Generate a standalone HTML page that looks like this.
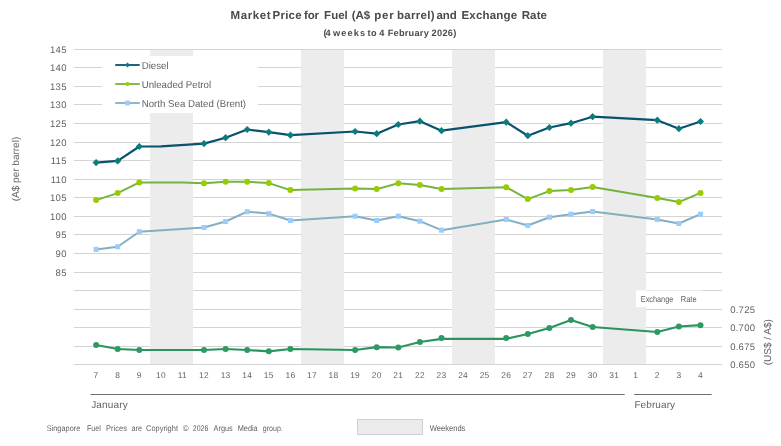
<!DOCTYPE html>
<html><head><meta charset="utf-8"><title>Market Price for Fuel</title>
<style>html,body{margin:0;padding:0;background:#fff}svg{display:block}text{font-family:"Liberation Sans",Arial,sans-serif;text-rendering:geometricPrecision}</style></head><body>
<svg width="781" height="446" viewBox="0 0 781 446">
<rect width="781" height="446" fill="#fff"/>
<line x1="74" x2="722" y1="49.50" y2="49.50" stroke="#d4d4d4" stroke-width="1"/>
<line x1="74" x2="722" y1="67.50" y2="67.50" stroke="#d4d4d4" stroke-width="1"/>
<line x1="74" x2="722" y1="86.50" y2="86.50" stroke="#d4d4d4" stroke-width="1"/>
<line x1="74" x2="722" y1="104.50" y2="104.50" stroke="#d4d4d4" stroke-width="1"/>
<line x1="74" x2="722" y1="123.50" y2="123.50" stroke="#d4d4d4" stroke-width="1"/>
<line x1="74" x2="722" y1="142.50" y2="142.50" stroke="#d4d4d4" stroke-width="1"/>
<line x1="74" x2="722" y1="160.50" y2="160.50" stroke="#d4d4d4" stroke-width="1"/>
<line x1="74" x2="722" y1="179.50" y2="179.50" stroke="#d4d4d4" stroke-width="1"/>
<line x1="74" x2="722" y1="197.50" y2="197.50" stroke="#d4d4d4" stroke-width="1"/>
<line x1="74" x2="722" y1="216.50" y2="216.50" stroke="#d4d4d4" stroke-width="1"/>
<line x1="74" x2="722" y1="234.50" y2="234.50" stroke="#d4d4d4" stroke-width="1"/>
<line x1="74" x2="722" y1="253.50" y2="253.50" stroke="#d4d4d4" stroke-width="1"/>
<line x1="74" x2="722" y1="272.50" y2="272.50" stroke="#d4d4d4" stroke-width="1"/>
<line x1="74" x2="722" y1="290.50" y2="290.50" stroke="#d4d4d4" stroke-width="1"/>
<line x1="74" x2="722" y1="309.50" y2="309.50" stroke="#d4d4d4" stroke-width="1"/>
<line x1="74" x2="722" y1="327.50" y2="327.50" stroke="#d4d4d4" stroke-width="1"/>
<line x1="74" x2="722" y1="346.50" y2="346.50" stroke="#d4d4d4" stroke-width="1"/>
<line x1="74" x2="722" y1="364.50" y2="364.50" stroke="#d4d4d4" stroke-width="1"/>
<rect x="150" y="50" width="43" height="314" fill="#ececec"/>
<rect x="301" y="50" width="43" height="314" fill="#ececec"/>
<rect x="452" y="50" width="43" height="314" fill="#ececec"/>
<rect x="603" y="50" width="43" height="314" fill="#ececec"/>
<rect x="102" y="56" width="156" height="57" fill="#fff"/>
<rect x="636" y="290.5" width="66.3" height="16.5" fill="#fff"/>
<polyline points="96.1,249.4 117.7,246.7 139.3,231.7 204.0,227.5 225.6,221.5 247.2,211.7 268.8,213.6 290.4,220.5 355.1,216.2 376.7,220.5 398.3,216.2 419.9,221.2 441.5,230.2 506.2,219.5 527.8,225.5 549.4,217.2 571.0,214.2 592.6,211.5 657.3,219.5 678.9,223.5 700.5,214.2" fill="none" stroke="#84afc0" stroke-width="2.0" stroke-linejoin="round" stroke-linecap="round"/>
<rect x="93.6" y="246.9" width="5.0" height="5.0" fill="#99ccff"/>
<rect x="115.2" y="244.2" width="5.0" height="5.0" fill="#99ccff"/>
<rect x="136.8" y="229.2" width="5.0" height="5.0" fill="#99ccff"/>
<rect x="201.5" y="225.0" width="5.0" height="5.0" fill="#99ccff"/>
<rect x="223.1" y="219.0" width="5.0" height="5.0" fill="#99ccff"/>
<rect x="244.7" y="209.2" width="5.0" height="5.0" fill="#99ccff"/>
<rect x="266.3" y="211.1" width="5.0" height="5.0" fill="#99ccff"/>
<rect x="287.9" y="218.0" width="5.0" height="5.0" fill="#99ccff"/>
<rect x="352.6" y="213.7" width="5.0" height="5.0" fill="#99ccff"/>
<rect x="374.2" y="218.0" width="5.0" height="5.0" fill="#99ccff"/>
<rect x="395.8" y="213.7" width="5.0" height="5.0" fill="#99ccff"/>
<rect x="417.4" y="218.7" width="5.0" height="5.0" fill="#99ccff"/>
<rect x="439.0" y="227.7" width="5.0" height="5.0" fill="#99ccff"/>
<rect x="503.7" y="217.0" width="5.0" height="5.0" fill="#99ccff"/>
<rect x="525.3" y="223.0" width="5.0" height="5.0" fill="#99ccff"/>
<rect x="546.9" y="214.7" width="5.0" height="5.0" fill="#99ccff"/>
<rect x="568.5" y="211.7" width="5.0" height="5.0" fill="#99ccff"/>
<rect x="590.1" y="209.0" width="5.0" height="5.0" fill="#99ccff"/>
<rect x="654.8" y="217.0" width="5.0" height="5.0" fill="#99ccff"/>
<rect x="676.4" y="221.0" width="5.0" height="5.0" fill="#99ccff"/>
<rect x="698.0" y="211.7" width="5.0" height="5.0" fill="#99ccff"/>
<polyline points="96.1,200.1 117.7,193.1 139.3,182.4 160.9,182.4 182.4,182.5 204.0,183.2 225.6,181.7 247.2,181.7 268.8,183.1 290.4,190.1 355.1,188.4 376.7,189.1 398.3,183.2 419.9,184.9 441.5,189.1 506.2,187.2 527.8,199.1 549.4,191.1 571.0,190.1 592.6,186.9 657.3,197.9 678.9,202.1 700.5,192.9" fill="none" stroke="#74b340" stroke-width="2.0" stroke-linejoin="round" stroke-linecap="round"/>
<circle cx="96.1" cy="200.1" r="3.00" fill="#99cc00"/>
<circle cx="117.7" cy="193.1" r="3.00" fill="#99cc00"/>
<circle cx="139.3" cy="182.4" r="3.00" fill="#99cc00"/>
<circle cx="204.0" cy="183.2" r="3.00" fill="#99cc00"/>
<circle cx="225.6" cy="181.7" r="3.00" fill="#99cc00"/>
<circle cx="247.2" cy="181.7" r="3.00" fill="#99cc00"/>
<circle cx="268.8" cy="183.1" r="3.00" fill="#99cc00"/>
<circle cx="290.4" cy="190.1" r="3.00" fill="#99cc00"/>
<circle cx="355.1" cy="188.4" r="3.00" fill="#99cc00"/>
<circle cx="376.7" cy="189.1" r="3.00" fill="#99cc00"/>
<circle cx="398.3" cy="183.2" r="3.00" fill="#99cc00"/>
<circle cx="419.9" cy="184.9" r="3.00" fill="#99cc00"/>
<circle cx="441.5" cy="189.1" r="3.00" fill="#99cc00"/>
<circle cx="506.2" cy="187.2" r="3.00" fill="#99cc00"/>
<circle cx="527.8" cy="199.1" r="3.00" fill="#99cc00"/>
<circle cx="549.4" cy="191.1" r="3.00" fill="#99cc00"/>
<circle cx="571.0" cy="190.1" r="3.00" fill="#99cc00"/>
<circle cx="592.6" cy="186.9" r="3.00" fill="#99cc00"/>
<circle cx="657.3" cy="197.9" r="3.00" fill="#99cc00"/>
<circle cx="678.9" cy="202.1" r="3.00" fill="#99cc00"/>
<circle cx="700.5" cy="192.9" r="3.00" fill="#99cc00"/>
<polyline points="96.1,162.6 117.7,160.9 139.3,146.5 160.9,146.4 204.0,143.6 225.6,137.7 247.2,129.5 268.8,132.2 290.4,135.2 355.1,131.5 376.7,133.7 398.3,124.5 419.9,121.2 441.5,130.7 506.2,122.2 527.8,135.7 549.4,127.5 571.0,123.2 592.6,116.7 657.3,120.2 678.9,128.7 700.5,121.5" fill="none" stroke="#08526f" stroke-width="2.2" stroke-linejoin="round" stroke-linecap="round"/>
<path d="M96.1 159.0L99.7 162.6L96.1 166.2L92.5 162.6Z" fill="#0b7c7c"/>
<path d="M117.7 157.3L121.3 160.9L117.7 164.5L114.1 160.9Z" fill="#0b7c7c"/>
<path d="M139.3 142.9L142.9 146.5L139.3 150.1L135.7 146.5Z" fill="#0b7c7c"/>
<path d="M204.0 140.0L207.6 143.6L204.0 147.2L200.4 143.6Z" fill="#0b7c7c"/>
<path d="M225.6 134.1L229.2 137.7L225.6 141.3L222.0 137.7Z" fill="#0b7c7c"/>
<path d="M247.2 125.9L250.8 129.5L247.2 133.1L243.6 129.5Z" fill="#0b7c7c"/>
<path d="M268.8 128.6L272.4 132.2L268.8 135.8L265.2 132.2Z" fill="#0b7c7c"/>
<path d="M290.4 131.6L294.0 135.2L290.4 138.8L286.8 135.2Z" fill="#0b7c7c"/>
<path d="M355.1 127.9L358.7 131.5L355.1 135.1L351.5 131.5Z" fill="#0b7c7c"/>
<path d="M376.7 130.1L380.3 133.7L376.7 137.3L373.1 133.7Z" fill="#0b7c7c"/>
<path d="M398.3 120.9L401.9 124.5L398.3 128.1L394.7 124.5Z" fill="#0b7c7c"/>
<path d="M419.9 117.6L423.5 121.2L419.9 124.8L416.3 121.2Z" fill="#0b7c7c"/>
<path d="M441.5 127.1L445.1 130.7L441.5 134.3L437.9 130.7Z" fill="#0b7c7c"/>
<path d="M506.2 118.6L509.8 122.2L506.2 125.8L502.6 122.2Z" fill="#0b7c7c"/>
<path d="M527.8 132.1L531.4 135.7L527.8 139.3L524.2 135.7Z" fill="#0b7c7c"/>
<path d="M549.4 123.9L553.0 127.5L549.4 131.1L545.8 127.5Z" fill="#0b7c7c"/>
<path d="M571.0 119.6L574.6 123.2L571.0 126.8L567.4 123.2Z" fill="#0b7c7c"/>
<path d="M592.6 113.1L596.2 116.7L592.6 120.3L589.0 116.7Z" fill="#0b7c7c"/>
<path d="M657.3 116.6L660.9 120.2L657.3 123.8L653.7 120.2Z" fill="#0b7c7c"/>
<path d="M678.9 125.1L682.5 128.7L678.9 132.3L675.3 128.7Z" fill="#0b7c7c"/>
<path d="M700.5 117.9L704.1 121.5L700.5 125.1L696.9 121.5Z" fill="#0b7c7c"/>
<polyline points="96.1,345.0 117.7,349.0 139.3,350.0 204.0,350.0 225.6,349.0 247.2,350.0 268.8,351.3 290.4,349.0 355.1,350.0 376.7,347.2 398.3,347.5 419.9,342.0 441.5,338.8 506.2,338.8 527.8,334.0 549.4,328.0 571.0,320.0 592.6,327.0 657.3,332.0 678.9,326.5 700.5,325.2" fill="none" stroke="#2a9461" stroke-width="2.2" stroke-linejoin="round" stroke-linecap="round"/>
<circle cx="96.1" cy="345.0" r="3.00" fill="#2e9a60"/>
<circle cx="117.7" cy="349.0" r="3.00" fill="#2e9a60"/>
<circle cx="139.3" cy="350.0" r="3.00" fill="#2e9a60"/>
<circle cx="204.0" cy="350.0" r="3.00" fill="#2e9a60"/>
<circle cx="225.6" cy="349.0" r="3.00" fill="#2e9a60"/>
<circle cx="247.2" cy="350.0" r="3.00" fill="#2e9a60"/>
<circle cx="268.8" cy="351.3" r="3.00" fill="#2e9a60"/>
<circle cx="290.4" cy="349.0" r="3.00" fill="#2e9a60"/>
<circle cx="355.1" cy="350.0" r="3.00" fill="#2e9a60"/>
<circle cx="376.7" cy="347.2" r="3.00" fill="#2e9a60"/>
<circle cx="398.3" cy="347.5" r="3.00" fill="#2e9a60"/>
<circle cx="419.9" cy="342.0" r="3.00" fill="#2e9a60"/>
<circle cx="441.5" cy="338.0" r="3.00" fill="#2e9a60"/>
<circle cx="506.2" cy="338.0" r="3.00" fill="#2e9a60"/>
<circle cx="527.8" cy="334.0" r="3.00" fill="#2e9a60"/>
<circle cx="549.4" cy="328.0" r="3.00" fill="#2e9a60"/>
<circle cx="571.0" cy="320.0" r="3.00" fill="#2e9a60"/>
<circle cx="592.6" cy="327.0" r="3.00" fill="#2e9a60"/>
<circle cx="657.3" cy="332.0" r="3.00" fill="#2e9a60"/>
<circle cx="678.9" cy="326.5" r="3.00" fill="#2e9a60"/>
<circle cx="700.5" cy="325.2" r="3.00" fill="#2e9a60"/>
<line x1="115.2" x2="139.7" y1="65" y2="65" stroke="#08526f" stroke-width="1.8"/>
<path d="M127.5 62.4L130.1 65.0L127.5 67.6L124.9 65.0Z" fill="#0b7c7c"/>
<text transform="translate(141.7 68.5) scale(0.968 1)" font-size="10" fill="#626262">Diesel</text>
<line x1="115.2" x2="139.7" y1="84" y2="84" stroke="#74b340" stroke-width="1.8"/>
<circle cx="127.5" cy="84.0" r="2.10" fill="#99cc00"/>
<text transform="translate(141.7 87.5) scale(0.968 1)" font-size="10" fill="#626262">Unleaded Petrol</text>
<line x1="115.2" x2="139.7" y1="103" y2="103" stroke="#84afc0" stroke-width="1.8"/>
<rect x="125.1" y="100.6" width="4.75" height="4.75" fill="#99ccff"/>
<text transform="translate(141.7 106.5) scale(0.968 1)" font-size="10" fill="#626262">North Sea Dated (Brent)</text>
<text x="66.7" y="52.50" font-size="9.5" letter-spacing="0.25" fill="#626262" text-anchor="end">145</text>
<text x="66.7" y="70.50" font-size="9.5" letter-spacing="0.25" fill="#626262" text-anchor="end">140</text>
<text x="66.7" y="89.50" font-size="9.5" letter-spacing="0.25" fill="#626262" text-anchor="end">135</text>
<text x="66.7" y="107.50" font-size="9.5" letter-spacing="0.25" fill="#626262" text-anchor="end">130</text>
<text x="66.7" y="126.50" font-size="9.5" letter-spacing="0.25" fill="#626262" text-anchor="end">125</text>
<text x="66.7" y="145.50" font-size="9.5" letter-spacing="0.25" fill="#626262" text-anchor="end">120</text>
<text x="66.7" y="163.50" font-size="9.5" letter-spacing="0.25" fill="#626262" text-anchor="end">115</text>
<text x="66.7" y="182.50" font-size="9.5" letter-spacing="0.25" fill="#626262" text-anchor="end">110</text>
<text x="66.7" y="200.50" font-size="9.5" letter-spacing="0.25" fill="#626262" text-anchor="end">105</text>
<text x="66.7" y="219.50" font-size="9.5" letter-spacing="0.25" fill="#626262" text-anchor="end">100</text>
<text x="66.7" y="237.50" font-size="9.5" letter-spacing="0.25" fill="#626262" text-anchor="end">95</text>
<text x="66.7" y="256.50" font-size="9.5" letter-spacing="0.25" fill="#626262" text-anchor="end">90</text>
<text x="66.7" y="275.50" font-size="9.5" letter-spacing="0.25" fill="#626262" text-anchor="end">85</text>
<text x="730.2" y="312.60" font-size="9.5" letter-spacing="0.25" fill="#626262">0.725</text>
<text x="730.2" y="330.60" font-size="9.5" letter-spacing="0.25" fill="#626262">0.700</text>
<text x="730.2" y="349.60" font-size="9.5" letter-spacing="0.25" fill="#626262">0.675</text>
<text x="730.2" y="367.60" font-size="9.5" letter-spacing="0.25" fill="#626262">0.650</text>
<text x="96.1" y="378.4" font-size="8.4" letter-spacing="0.3" fill="#626262" text-anchor="middle">7</text>
<text x="117.7" y="378.4" font-size="8.4" letter-spacing="0.3" fill="#626262" text-anchor="middle">8</text>
<text x="139.3" y="378.4" font-size="8.4" letter-spacing="0.3" fill="#626262" text-anchor="middle">9</text>
<text x="160.9" y="378.4" font-size="8.4" letter-spacing="0.3" fill="#626262" text-anchor="middle">10</text>
<text x="182.4" y="378.4" font-size="8.4" letter-spacing="0.3" fill="#626262" text-anchor="middle">11</text>
<text x="204.0" y="378.4" font-size="8.4" letter-spacing="0.3" fill="#626262" text-anchor="middle">12</text>
<text x="225.6" y="378.4" font-size="8.4" letter-spacing="0.3" fill="#626262" text-anchor="middle">13</text>
<text x="247.2" y="378.4" font-size="8.4" letter-spacing="0.3" fill="#626262" text-anchor="middle">14</text>
<text x="268.8" y="378.4" font-size="8.4" letter-spacing="0.3" fill="#626262" text-anchor="middle">15</text>
<text x="290.4" y="378.4" font-size="8.4" letter-spacing="0.3" fill="#626262" text-anchor="middle">16</text>
<text x="312.0" y="378.4" font-size="8.4" letter-spacing="0.3" fill="#626262" text-anchor="middle">17</text>
<text x="333.5" y="378.4" font-size="8.4" letter-spacing="0.3" fill="#626262" text-anchor="middle">18</text>
<text x="355.1" y="378.4" font-size="8.4" letter-spacing="0.3" fill="#626262" text-anchor="middle">19</text>
<text x="376.7" y="378.4" font-size="8.4" letter-spacing="0.3" fill="#626262" text-anchor="middle">20</text>
<text x="398.3" y="378.4" font-size="8.4" letter-spacing="0.3" fill="#626262" text-anchor="middle">21</text>
<text x="419.9" y="378.4" font-size="8.4" letter-spacing="0.3" fill="#626262" text-anchor="middle">22</text>
<text x="441.5" y="378.4" font-size="8.4" letter-spacing="0.3" fill="#626262" text-anchor="middle">23</text>
<text x="463.1" y="378.4" font-size="8.4" letter-spacing="0.3" fill="#626262" text-anchor="middle">24</text>
<text x="484.6" y="378.4" font-size="8.4" letter-spacing="0.3" fill="#626262" text-anchor="middle">25</text>
<text x="506.2" y="378.4" font-size="8.4" letter-spacing="0.3" fill="#626262" text-anchor="middle">26</text>
<text x="527.8" y="378.4" font-size="8.4" letter-spacing="0.3" fill="#626262" text-anchor="middle">27</text>
<text x="549.4" y="378.4" font-size="8.4" letter-spacing="0.3" fill="#626262" text-anchor="middle">28</text>
<text x="571.0" y="378.4" font-size="8.4" letter-spacing="0.3" fill="#626262" text-anchor="middle">29</text>
<text x="592.6" y="378.4" font-size="8.4" letter-spacing="0.3" fill="#626262" text-anchor="middle">30</text>
<text x="614.2" y="378.4" font-size="8.4" letter-spacing="0.3" fill="#626262" text-anchor="middle">31</text>
<text x="635.8" y="378.4" font-size="8.4" letter-spacing="0.3" fill="#626262" text-anchor="middle">1</text>
<text x="657.3" y="378.4" font-size="8.4" letter-spacing="0.3" fill="#626262" text-anchor="middle">2</text>
<text x="678.9" y="378.4" font-size="8.4" letter-spacing="0.3" fill="#626262" text-anchor="middle">3</text>
<text x="700.5" y="378.4" font-size="8.4" letter-spacing="0.3" fill="#626262" text-anchor="middle">4</text>
<line x1="90.5" x2="624.7" y1="394.5" y2="394.5" stroke="#6e6e6e" stroke-width="1"/>
<line x1="634.2" x2="711.6" y1="394.5" y2="394.5" stroke="#6e6e6e" stroke-width="1"/>
<text x="91.2" y="408" font-size="10" letter-spacing="0.15" fill="#626262">January</text>
<text x="634.4" y="408" font-size="10" letter-spacing="0.1" fill="#626262">February</text>
<text transform="translate(19.3 169) rotate(-90)" font-size="10" fill="#626262" text-anchor="middle">(A$ per barrel)</text>
<text transform="translate(770.5 342.2) rotate(-90)" font-size="10" fill="#626262" text-anchor="middle">(US$ / A$)</text>
<text y="18.8" font-size="11.5" fill="#4a4a4a" font-weight="bold"><tspan x="230.5" textLength="40.1" lengthAdjust="spacing">Market</tspan> <tspan x="272.6" textLength="29.0" lengthAdjust="spacing">Price</tspan> <tspan x="304.0" textLength="15.1" lengthAdjust="spacing">for</tspan> <tspan x="324.1" textLength="23.7" lengthAdjust="spacing">Fuel</tspan> <tspan x="351.8" textLength="18.3" lengthAdjust="spacing">(A$</tspan> <tspan x="374.2" textLength="19.6" lengthAdjust="spacing">per</tspan> <tspan x="396.9" textLength="37.6" lengthAdjust="spacing">barrel)</tspan> <tspan x="436.4" textLength="20.5" lengthAdjust="spacing">and</tspan> <tspan x="461.5" textLength="55.6" lengthAdjust="spacing">Exchange</tspan> <tspan x="521.7" textLength="25.3" lengthAdjust="spacing">Rate</tspan></text>
<text y="36.4" font-size="9.2" fill="#4a4a4a" font-weight="bold"><tspan x="323.5" textLength="7.1" lengthAdjust="spacing">(4</tspan> <tspan x="333.0" textLength="32.2" lengthAdjust="spacing">weeks</tspan> <tspan x="367.6" textLength="8.9" lengthAdjust="spacing">to</tspan> <tspan x="379.3" textLength="5.6" lengthAdjust="spacing">4</tspan> <tspan x="387.7" textLength="41.1" lengthAdjust="spacing">February</tspan> <tspan x="431.6" textLength="24.7" lengthAdjust="spacing">2026)</tspan></text>
<text y="302.1" font-size="8.6" fill="#626262"><tspan x="640.8" textLength="32.5" lengthAdjust="spacingAndGlyphs">Exchange</tspan> <tspan x="680.8" textLength="15.8" lengthAdjust="spacingAndGlyphs">Rate</tspan></text>
<text y="431" font-size="8.2" fill="#626262"><tspan x="46.7" textLength="33.6" lengthAdjust="spacingAndGlyphs">Singapore</tspan> <tspan x="86.9" textLength="13.9" lengthAdjust="spacingAndGlyphs">Fuel</tspan> <tspan x="106.1" textLength="20.8" lengthAdjust="spacingAndGlyphs">Prices</tspan> <tspan x="131.5" textLength="10.4" lengthAdjust="spacingAndGlyphs">are</tspan> <tspan x="146" textLength="32.0" lengthAdjust="spacingAndGlyphs">Copyright</tspan> <tspan x="182.8" textLength="5.8" lengthAdjust="spacingAndGlyphs">©</tspan> <tspan x="192.8" textLength="15.5" lengthAdjust="spacingAndGlyphs">2026</tspan> <tspan x="213.6" textLength="19.1" lengthAdjust="spacingAndGlyphs">Argus</tspan> <tspan x="237.7" textLength="20.0" lengthAdjust="spacingAndGlyphs">Media</tspan> <tspan x="262.7" textLength="20.1" lengthAdjust="spacingAndGlyphs">group.</tspan></text>
<rect x="357.5" y="419.5" width="65" height="15" fill="#ebebeb" stroke="#d0d0d0" stroke-width="1"/>
<text x="429.8" y="431" font-size="8.5" fill="#626262" textLength="35.6" lengthAdjust="spacingAndGlyphs">Weekends</text>
</svg></body></html>
